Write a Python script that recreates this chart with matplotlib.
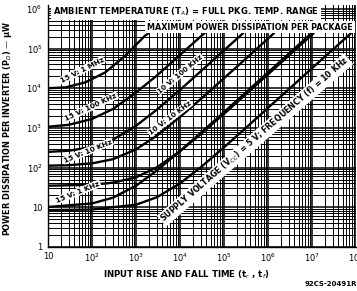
import matplotlib
matplotlib.use("Agg")
import matplotlib.pyplot as plt
from matplotlib.ticker import FixedLocator, LogLocator, NullFormatter

# ---------------- data ----------------
x_ticks = [1e1, 1e2, 1e3, 1e4, 1e5, 1e6, 1e7, 1e8]
x_tick_labels = ["10", "10$^2$", "10$^3$", "10$^4$", "10$^5$", "10$^6$", "10$^7$", "10$^8$"]
y_ticks = [1, 1e1, 1e2, 1e3, 1e4, 1e5, 1e6]
y_tick_labels = ["1", "10", "10$^2$", "10$^3$", "10$^4$", "10$^5$", "10$^6$"]

t_15v_1mhz = [10, 25, 70, 200, 560, 1600, 2000]
p_15v_1mhz = [1.0e4, 1.05e4, 1.4e4, 2.5e4, 6.5e4, 2.1e5, 2.5e5]

t_15v_100khz = [10, 30, 100, 300, 1000, 3000, 1e4, 3e4, 3.7e4]
p_15v_100khz = [1.07e3, 1.2e3, 1.68e3, 3.0e3, 7.8e3, 2.1e4, 6.9e4, 2.04e5, 2.5e5]

t_10v_100khz = [10, 30, 100, 300, 1000, 3000, 1e4, 3e4, 1e5, 2.8e5]
p_10v_100khz = [249, 267, 329, 507, 1.13e3, 2.9e3, 9.1e3, 2.7e4, 9.0e4, 2.5e5]

t_15v_10khz = [10, 30, 100, 300, 1000, 3000, 1e4, 3e4, 1e5, 3e5, 1e6, 1.4e6]
p_15v_10khz = [112, 115, 128, 163, 288, 643, 1.89e3, 5.4e3, 1.79e4, 5.3e4, 1.78e5, 2.5e5]

t_10v_10khz = [10, 100, 300, 1000, 3000, 1e4, 3e4, 1e5, 3e5, 1e6, 3e6, 1e7, 1.12e7]
p_10v_10khz = [35, 37, 41.7, 57, 102, 259, 705, 2.27e3, 6.7e3, 2.24e4, 6.7e4, 2.24e5, 2.5e5]

t_15v_1khz = [10, 100, 300, 1000, 3000, 1e4, 3e4, 1e5, 3e5, 1e6, 3e6, 1e7]
p_15v_1khz = [10.2, 12.5, 17.5, 35, 85, 261, 760, 2.5e3, 7.5e3, 2.5e4, 7.5e4, 2.5e5]

t_5v_10khz = [10, 100, 1000, 3000, 1e4, 3e4, 1e5, 3e5, 1e6, 3e6, 1e7, 3e7, 7.9e7]
p_5v_10khz = [8.5, 8.8, 11.6, 18, 40, 103, 325, 955, 3.2e3, 9.5e3, 3.2e4, 9.5e4, 2.5e5]

curves = [
    (t_15v_1mhz, p_15v_1mhz),
    (t_15v_100khz, p_15v_100khz),
    (t_10v_100khz, p_10v_100khz),
    (t_15v_10khz, p_15v_10khz),
    (t_10v_10khz, p_10v_10khz),
    (t_15v_1khz, p_15v_1khz),
    (t_5v_10khz, p_5v_10khz),
]

# ---------------- figure ----------------
W, H = 357, 291
fig = plt.figure(figsize=(W / 100, H / 100), dpi=100)
fig.patch.set_facecolor("white")

def fx(px):
    return px / W

def fy(py):
    return 1 - py / H

ax = fig.add_axes([fx(48), fy(247), fx(356) - fx(48), fy(5) - fy(247)])
ax.set_xscale("log")
ax.set_yscale("log")
ax.set_xlim(10, 1e8)
ax.set_ylim(1, 1.25e6)

ax.xaxis.set_major_locator(FixedLocator(x_ticks))
ax.yaxis.set_major_locator(FixedLocator(y_ticks))
ax.set_xticklabels(x_tick_labels)
ax.set_yticklabels(y_tick_labels)
ax.xaxis.set_minor_locator(LogLocator(base=10, subs=range(2, 10), numticks=20))
ax.yaxis.set_minor_locator(LogLocator(base=10, subs=range(2, 10), numticks=20))
ax.xaxis.set_minor_formatter(NullFormatter())
ax.yaxis.set_minor_formatter(NullFormatter())
ax.tick_params(which="both", length=0, labelsize=6)
ax.tick_params(axis="x", pad=3.5)
ax.tick_params(axis="y", pad=4)
ax.grid(which="major", color="black", lw=1.1)
ax.grid(which="minor", color="black", lw=0.7)
ax.set_axisbelow(True)
for s in ax.spines.values():
    s.set_linewidth(1.0)
ax.spines["top"].set_visible(False)
ax.spines["right"].set_visible(False)

for t, p in curves:
    ax.plot(t, p, color="black", lw=1.7, solid_capstyle="butt", zorder=3)

bold = dict(fontweight="bold", color="black", family="DejaVu Sans")
wbox = dict(facecolor="white", edgecolor="none", pad=0.6)

fig.text(fx(186), fy(12), "AMBIENT TEMPERATURE (T$_A$) = FULL PKG. TEMP. RANGE",
         ha="center", va="center", fontsize=6.0, bbox=dict(facecolor="white", edgecolor="none", pad=1.5), **bold)
fig.text(fx(250), fy(27), "MAXIMUM POWER DISSIPATION PER PACKAGE",
         ha="center", va="center", fontsize=5.8, bbox=dict(facecolor="white", edgecolor="none", pad=1.2), zorder=5, **bold)

curve_labels = [
    ("15 V; 1 MHz", 82, 70, 27, 5.2),
    ("15 V; 100 KHz", 91, 107, 25, 5.2),
    ("15 V; 10 KHz", 88, 151, 22, 5.2),
    ("15 V; 1 KHz", 78, 192, 22, 5.2),
    ("10 V; 100 KHz", 180, 74, 40, 5.2),
    ("10 V; 10 KHz", 170, 118, 37, 5.2),
    ("SUPPLY VOLTAGE (V$_{CC}$) = 5 V; FREQUENCY (f) = 10 KHz", 255, 140, 41, 5.7),
]
for txt, px, py, rot, fs in curve_labels:
    fig.text(fx(px), fy(py), txt, ha="center", va="center", rotation=rot,
             rotation_mode="anchor", fontsize=fs, bbox=wbox, zorder=6, **bold)

fig.text(fx(8), fy(128), "POWER DISSIPATION PER INVERTER (P$_D$) \u2014 \u03bcW",
         ha="center", va="center", rotation=90, fontsize=5.9, **bold)
fig.text(fx(186), fy(275), "INPUT RISE AND FALL TIME (t$_r$ , t$_f$)",
         ha="center", va="center", fontsize=6.2, **bold)
fig.text(fx(357), fy(284), "92CS-20491R", ha="right", va="center", fontsize=5.0, **bold)

fig.savefig("out.png", dpi=100, facecolor="white")
